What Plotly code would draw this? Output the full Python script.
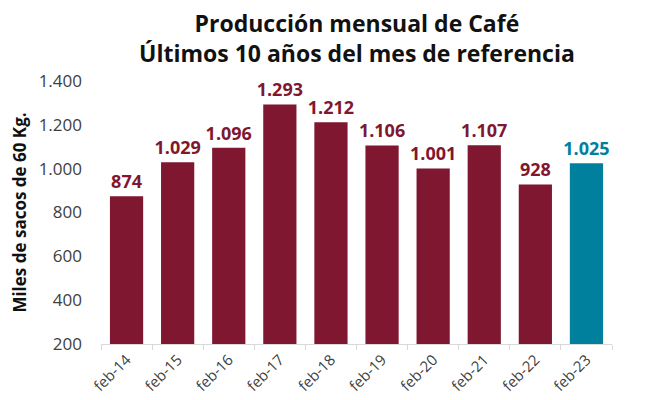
import plotly.graph_objects as go

# ── Data ──────────────────────────────────────────
meses = ["feb-14", "feb-15", "feb-16", "feb-17", "feb-18",
         "feb-19", "feb-20", "feb-21", "feb-22", "feb-23"]
produccion = [874, 1029, 1096, 1293, 1212, 1106, 1001, 1107, 928, 1025]

MAROON = "#7F1730"
TEAL = "#00809C"
FONT = "Open Sans"

colores = [MAROON] * (len(meses) - 1) + [TEAL]

fig = go.Figure(go.Bar(
    x=meses, y=produccion,
    marker_color=colores,
    marker_line_width=0,
    texttemplate="<b>%{y:,d}</b>",
    textposition="outside",
    textfont=dict(family=FONT, size=18, color=colores),
    cliponaxis=False,
))

# the page body keeps its 8px default margin, so the figure is 8px smaller
fig.update_layout(
    width=638, height=392,
    margin=dict(l=93, r=34, t=73, b=56),
    paper_bgcolor="white", plot_bgcolor="white",
    separators=",.",
    bargap=0.35,
    showlegend=False,
    uniformtext=dict(minsize=18, mode="show"),
    font=dict(family=FONT, color="#404040"),
)

# título de dos líneas como anotación
fig.add_annotation(
    text="<b>Producción mensual de Café<br>Últimos 10 años del mes de referencia</b>",
    xref="paper", yref="paper", x=0.5, y=1, xanchor="center", yanchor="bottom",
    yshift=10, showarrow=False, align="center",
    font=dict(family=FONT, size=23, color="#111111"),
)

fig.update_yaxes(
    range=[200, 1400], dtick=200, tickformat=",d",
    showgrid=False, zeroline=False, automargin=False,
    ticklabelstandoff=18,
    tickfont=dict(family=FONT, size=17, color="#404040"),
    title=dict(text="<b>Miles de sacos de 60 Kg.</b>",
               font=dict(family=FONT, size=17, color="#111111"), standoff=8),
)
fig.update_xaxes(
    showline=True, linecolor="#D9D9D9", linewidth=1, automargin=False,
    ticks="outside", tickson="boundaries", ticklen=5, tickcolor="#D9D9D9",
    tickangle=-45,
    tickfont=dict(family=FONT, size=15, color="#404040"),
)

fig.write_html("out.html")
